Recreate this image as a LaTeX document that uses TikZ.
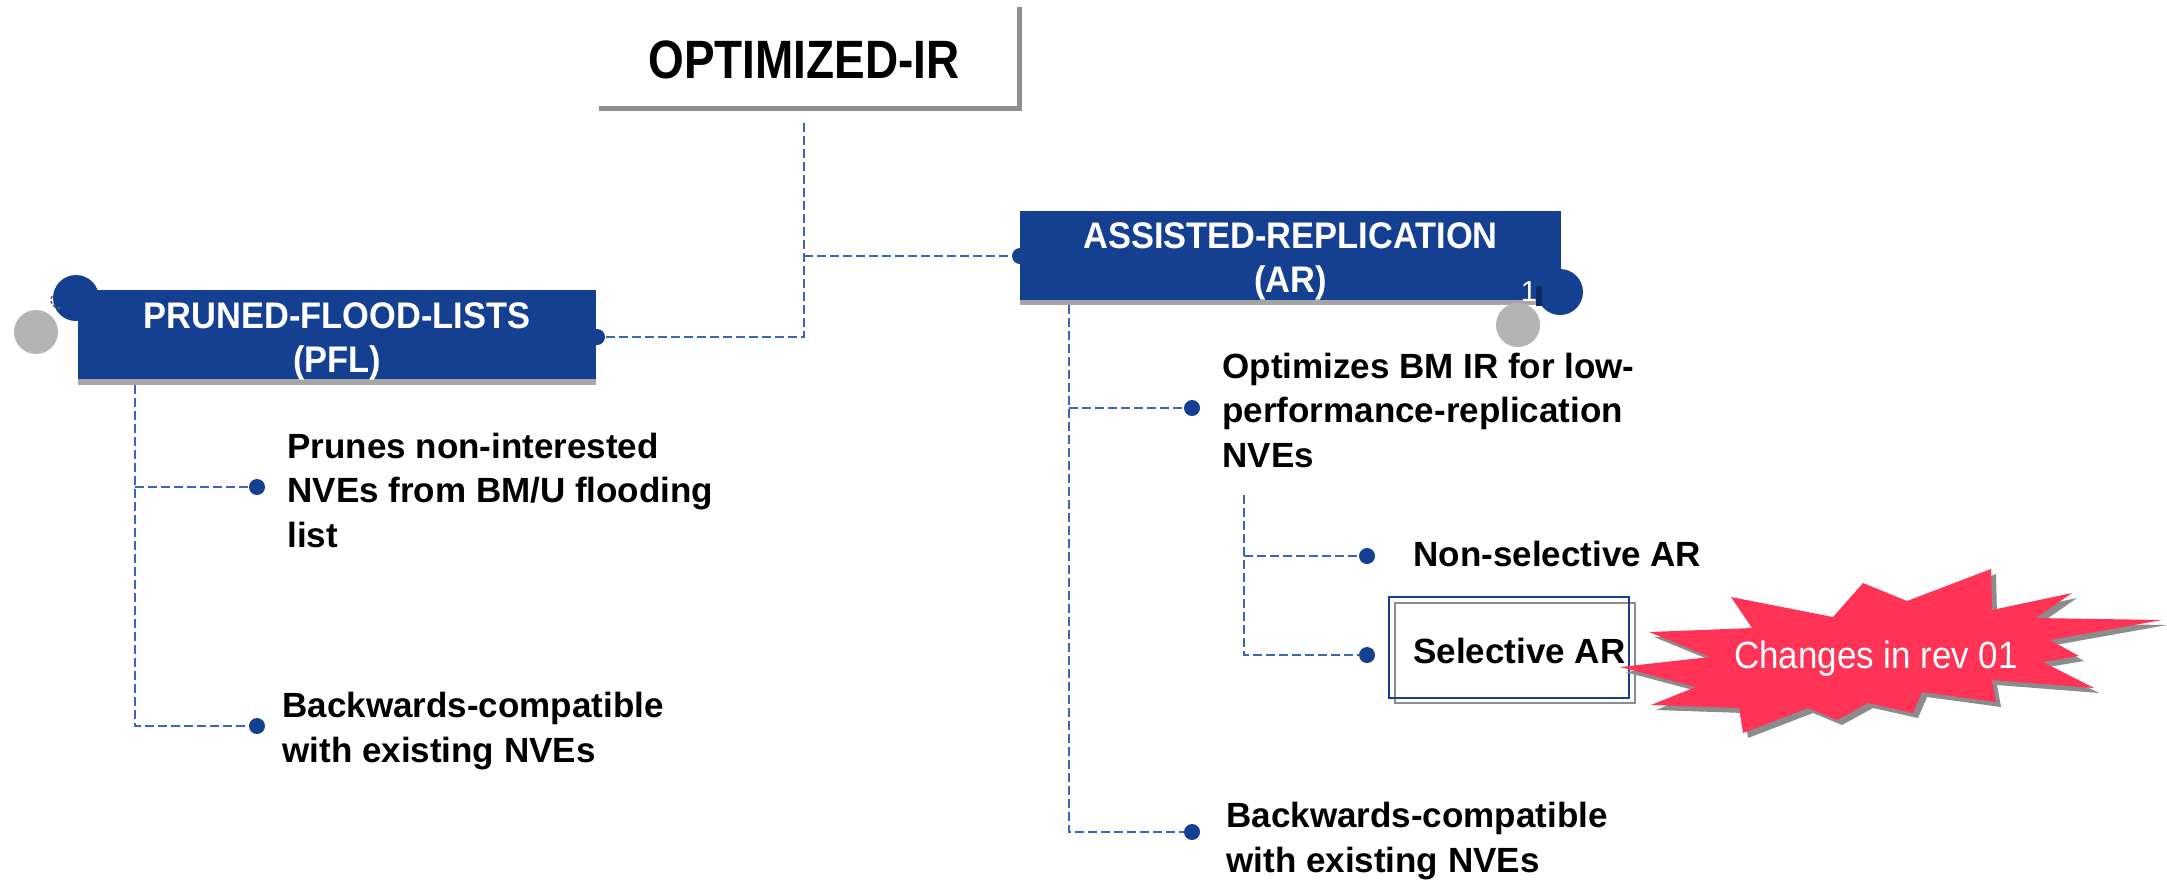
\documentclass[tikz,border=0pt]{standalone}
\usepackage{fontspec}
\usetikzlibrary{backgrounds}
\setmainfont{Liberation Sans}
\newfontfamily\optfont{Liberation Sans}[FakeStretch=0.85]
\newfontfamily\hdfont{Liberation Sans}[FakeStretch=0.93]
\newfontfamily\starfont{Liberation Sans}[FakeStretch=0.92]

\definecolor{navy}{RGB}{21,64,145}
\definecolor{navydark}{RGB}{14,42,99}
\definecolor{linkblue}{RGB}{58,102,181}
\definecolor{hdshadow}{RGB}{166,166,166}
\definecolor{optshadow}{RGB}{143,143,143}
\definecolor{bubble}{RGB}{180,180,180}
\definecolor{starred}{RGB}{255,51,85}
\definecolor{starshadow}{RGB}{140,140,140}

% centred two-line heading, baseline on the first line
\newcommand\ctrlines[2]{\vtop{\baselineskip=22pt\halign{\hfil##\hfil\cr#1\cr#2\cr}}}
% left-aligned stacks of lines, baseline on the first line
\newcommand\twolines[2]{\vtop{\baselineskip=22.5pt\hbox{#1}\hbox{#2}}}
\newcommand\threelines[3]{\vtop{\baselineskip=22.25pt\hbox{#1}\hbox{#2}\hbox{#3}}}

\tikzset{
  hdbox/.style={fill=navy, inner sep=0pt, minimum height=44.5pt},
  hdtext/.style={text=white, inner sep=0pt, anchor=base, font=\hdfont\bfseries\fontsize{18.5}{22}\selectfont},
  itemtext/.style={inner sep=0pt, anchor=base west, font=\bfseries\fontsize{17.5}{22.5}\selectfont},
  dot/.style={circle, fill=navy, inner sep=0pt, minimum size=8pt},
  conn/.style={draw=linkblue, line width=0.65pt, dash pattern=on 4.5pt off 2pt},
}

\begin{document}
\begin{tikzpicture}[x=0.5pt, y=-0.5pt]
\useasboundingbox (0,0) rectangle (2167,880);

% ---- root box ----
\fill[optshadow] (599,7) rectangle (1022,111);
\node[fill=white, inner sep=0pt, minimum width=211.5pt, minimum height=52pt] (opt) at (805.5,54) {};
\node[inner sep=0pt, anchor=base, font=\optfont\bfseries\fontsize{27}{30}\selectfont] (opttext) at (804,78) {OPTIMIZED-IR};

% ---- connector stems ----
\coordinate (optstem) at (804,123);
\coordinate (pflstem) at (135,385);
\coordinate (arstem) at (1069,305);
\coordinate (substem) at (1244,495);

% ---- PRUNED-FLOOD-LISTS heading ----
\fill[bubble] (36,332) circle[radius=11pt];
\fill[hdshadow] (78,296) rectangle (596,385);
\node[hdbox, minimum width=259pt] (pfl) at (337,334.5) {};
\fill[navy] (76,298) circle[radius=11.5pt];
\draw[black!60, line width=0.8pt, dash pattern=on 1.5pt off 1pt] (52,296) arc[start angle=150, end angle=280, radius=4pt];
\node[hdtext] (pfltext) at (337,328) {\ctrlines{PRUNED-FLOOD-LISTS}{(PFL)}};

% ---- ASSISTED-REPLICATION heading ----
\fill[hdshadow] (1020,216) rectangle (1561,305);
\node[hdbox, minimum width=270.5pt] (ar) at (1290.5,255.5) {};
\node[hdtext] (artext) at (1290.5,248) {\ctrlines{ASSISTED-REPLICATION}{(AR)}};
\fill[bubble] (1518,325) circle[radius=11pt];
\fill[navy] (1560,292) circle[radius=11.5pt];
\fill[navydark] (1536,286) rectangle (1542,306);
\node[text=white, inner sep=0pt, anchor=base, font=\fontsize{14.5}{16}\selectfont] (num) at (1529,301) {1};

% ---- item dots ----
\node[dot] (pflR) at (597,337) {};
\node[dot] (arL) at (1020,256) {};
\node[dot] (p1) at (257,487) {};
\node[dot] (p2) at (257,726) {};
\node[dot] (a1) at (1192,408) {};
\node[dot] (a2) at (1192,832) {};
\node[dot] (s1) at (1367,556) {};
\node[dot] (s2) at (1367,655) {};

% ---- dashed connectors, kept under the dots ----
\begin{pgfonlayer}{background}
\draw[conn] (optstem) |- (pflR.center);
\draw[conn] (optstem |- arL) -- (arL.center);
\draw[conn] (pflstem) |- (p2.center);
\draw[conn] (pflstem |- p1) -- (p1.center);
\draw[conn] (arstem) |- (a2.center);
\draw[conn] (arstem |- a1) -- (a1.center);
\draw[conn] (substem) |- (s2.center);
\draw[conn] (substem |- s1) -- (s1.center);
\end{pgfonlayer}

% ---- item texts ----
\node[itemtext] (t1) at (287,458) {\threelines{Prunes non-interested}{NVEs from BM/U flooding}{list}};
\node[itemtext] (t2) at (282,717) {\twolines{Backwards-compatible}{with existing NVEs}};
\node[itemtext] (t3) at (1222,378) {\threelines{Optimizes BM IR for low-}{performance-replication}{NVEs}};
\node[itemtext] (t4) at (1413,566) {Non-selective AR};
\draw[starshadow, line width=1.3pt] (1395,603) rectangle (1635,703);
\draw[navy, line width=1.1pt] (1389,597) rectangle (1629,698);
\node[itemtext] (t5) at (1413,663) {Selective AR};
\node[itemtext] (t6) at (1226,827) {\twolines{Backwards-compatible}{with existing NVEs}};

% ---- revision burst ----
\foreach \off/\col in {5/starshadow,0/starred}{
  \fill[\col, shift={(\off,\off)}]
    (1731,597) -- (1833,617) -- (1863,583) -- (1907,601) -- (1991,569) -- (1992,610)
    -- (2072,593) -- (2036,618) -- (2162,620) -- (2050,640) -- (2079,656) -- (2043,662)
    -- (2094,688) -- (1992,680) -- (1996,702) -- (1922,692) -- (1913,713) -- (1868,703)
    -- (1837,720) -- (1808,708) -- (1743,733) -- (1739,708) -- (1651,705) -- (1696,687)
    -- (1620,667) -- (1710,657) -- (1649,632) -- (1752,628) -- cycle;
}
\node[text=white, inner sep=0pt, anchor=base, font=\starfont\fontsize{19}{22}\selectfont] (rev) at (1876,668) {Changes in rev 01};
\end{tikzpicture}
\end{document}
